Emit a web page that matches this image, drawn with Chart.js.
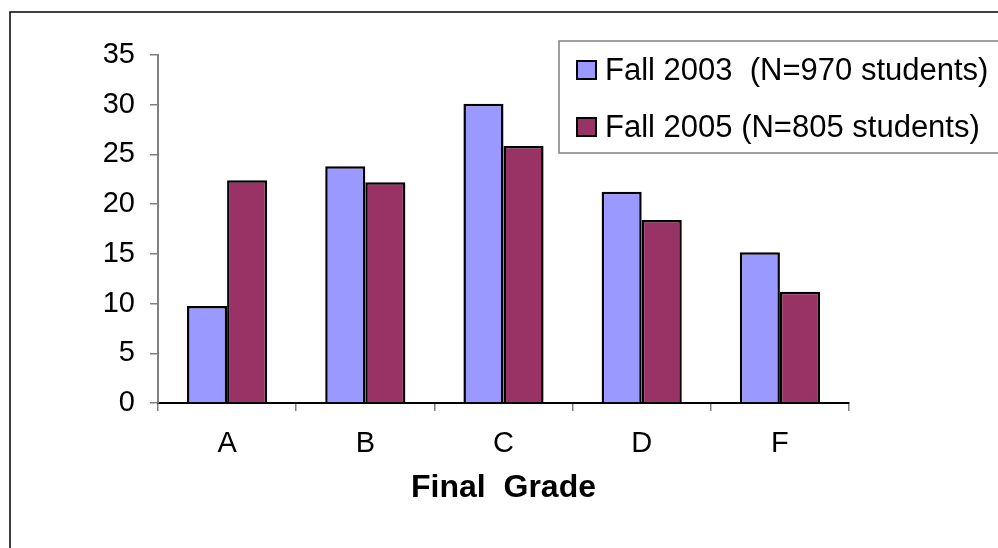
<!DOCTYPE html>
<html>
<head>
<meta charset="utf-8">
<script src="https://cdn.jsdelivr.net/npm/chart.js@4/dist/chart.umd.min.js"></script>
<style>
html,body{margin:0;padding:0;background:#fff;}
canvas{display:block;}
</style>
</head>
<body>
<canvas id="c" width="998" height="548"></canvas>
<script>
const categories = ['A', 'B', 'C', 'D', 'F'];
const seriesLabels = ['Fall 2003  (N=970 students)', 'Fall 2005 (N=805 students)'];
const fall2003 = [9.75, 23.8, 30.1, 21.25, 15.15];
const fall2005 = [22.4, 22.2, 25.85, 18.4, 11.2];
const yMin = 0, yMax = 35, yStep = 5;
const xTitle = 'Final  Grade';

const FONT = '"Liberation Sans", Arial, sans-serif';

const frame = {
  id: 'frame',
  beforeDraw(chart) {
    const ctx = chart.ctx;
    ctx.save();
    ctx.fillStyle = '#fff';
    ctx.fillRect(0, 0, chart.width, chart.height);
    ctx.strokeStyle = '#000';
    ctx.lineWidth = 1.5;
    ctx.strokeRect(10, 12, 1100, 700);
    ctx.restore();
  },
  afterDraw(chart) {
    const ctx = chart.ctx;
    ctx.save();
    ctx.fillStyle = '#fff';
    ctx.fillRect(559, 41, 460, 112);
    ctx.strokeStyle = '#808080';
    ctx.lineWidth = 1.5;
    ctx.strokeRect(559, 41, 460, 112);
    ctx.font = '31px ' + FONT;
    ctx.textBaseline = 'alphabetic';
    ctx.textAlign = 'left';
    const rows = [80, 137];
    chart.data.datasets.forEach((ds, i) => {
      const base = rows[i];
      ctx.fillStyle = ds.backgroundColor;
      ctx.fillRect(577, base - 19, 19, 18);
      ctx.strokeStyle = '#000';
      ctx.lineWidth = 2;
      ctx.strokeRect(577, base - 19, 19, 18);
      ctx.fillStyle = '#000';
      ctx.fillText(ds.label, 605, base);
    });
    ctx.restore();
  }
};

new Chart(document.getElementById('c'), {
  type: 'bar',
  data: {
    labels: categories,
    datasets: [
      { label: seriesLabels[0], data: fall2003, backgroundColor: '#9999FF', borderColor: '#000', borderWidth: 2.5 },
      { label: seriesLabels[1], data: fall2005, backgroundColor: '#993366', borderColor: '#000', borderWidth: 2.5 }
    ]
  },
  options: {
    responsive: false,
    animation: false,
    datasets: { bar: { categoryPercentage: 0.58, barPercentage: 1.0 } },
    layout: { padding: { left: 0, top: 55, right: 149, bottom: 0 } },
    plugins: { legend: { display: false }, tooltip: { enabled: false } },
    scales: {
      x: {
        afterFit(s) { s.height = 145; },
        grid: { display: true, drawOnChartArea: false, drawTicks: true, tickLength: 8, color: '#808080', lineWidth: 1.5, offset: true },
        border: { display: true, color: '#000', width: 2 },
        ticks: { color: '#000', font: { family: FONT, size: 29 }, padding: 16 },
        title: { display: true, text: xTitle, color: '#000', font: { family: FONT, size: 32, weight: 'bold' }, padding: { top: 0, bottom: 41 } }
      },
      y: {
        min: yMin, max: yMax,
        afterFit(s) { s.width = 158; },
        grid: { display: true, drawOnChartArea: false, drawTicks: true, tickLength: 8, color: '#808080', lineWidth: 1.5 },
        border: { display: true, color: '#808080', width: 2 },
        ticks: { stepSize: yStep, color: '#000', font: { family: FONT, size: 29 }, padding: 15 }
      }
    }
  },
  plugins: [frame]
});
</script>
</body>
</html>
